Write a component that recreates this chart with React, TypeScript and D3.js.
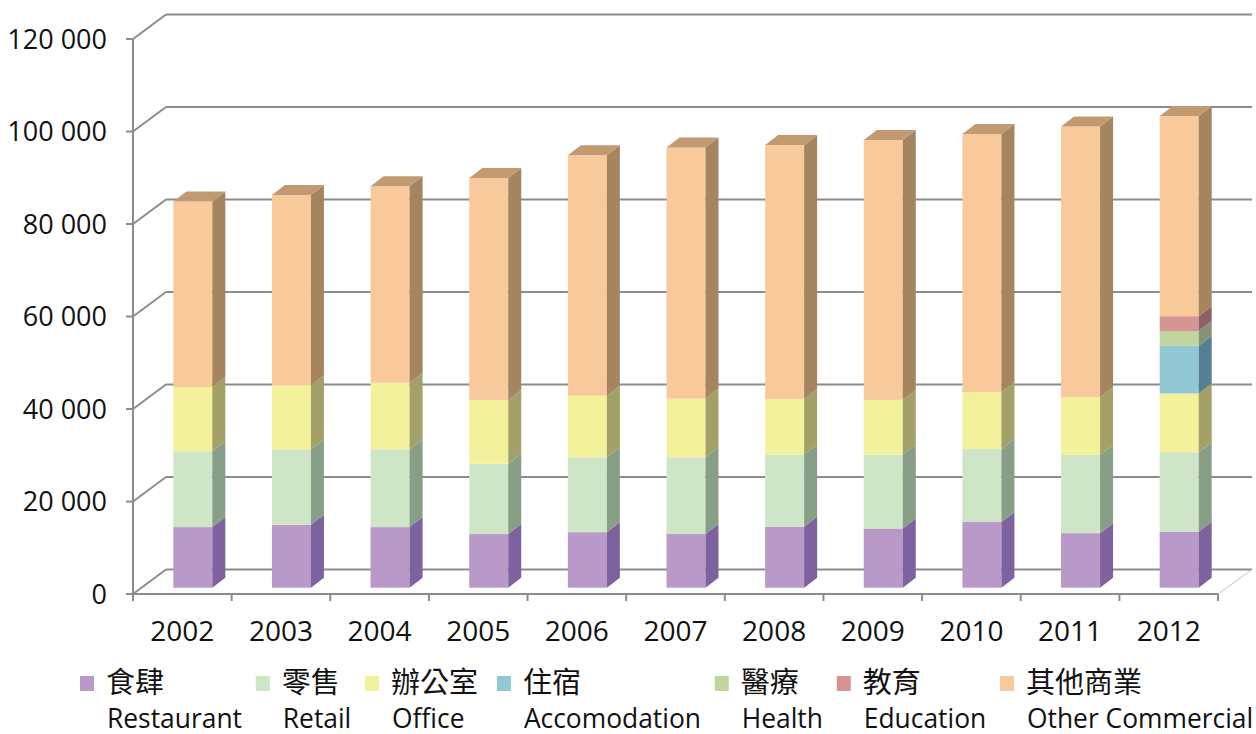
import React, { useMemo } from "react";
import * as d3 from "d3";

const years = ["2002", "2003", "2004", "2005", "2006", "2007", "2008", "2009", "2010", "2011", "2012"];
const restaurant = [13100, 13600, 13100, 11600, 12000, 11600, 13200, 12800, 14200, 11800, 12100];
const retail = [16400, 16300, 16800, 15200, 16200, 16600, 15600, 16000, 15800, 16900, 17200];
const office = [13900, 13900, 14400, 13800, 13300, 12700, 12000, 11800, 12300, 12500, 12700];
const accommodation = [0, 0, 0, 0, 0, 0, 0, 0, 0, 0, 10300];
const health = [0, 0, 0, 0, 0, 0, 0, 0, 0, 0, 3200];
const education = [0, 0, 0, 0, 0, 0, 0, 0, 0, 0, 3200];
const other = [40100, 41100, 42500, 48000, 52000, 54300, 54900, 56200, 55800, 58500, 43300];

const yTicks = [0, 20000, 40000, 60000, 80000, 100000, 120000];
const yTickLabels = ["0", "20 000", "40 000", "60 000", "80 000", "100 000", "120 000"];

const seriesNamesZh = ["食肆", "零售", "辦公室", "住宿", "醫療", "教育", "其他商業"];
const seriesNamesEn = ["Restaurant", "Retail", "Office", "Accomodation", "Health", "Education", "Other Commercial"];
const seriesValues = [restaurant, retail, office, accommodation, health, education, other];
const frontColors = ["#b899c8", "#cfe5c7", "#f4f19d", "#92c8d5", "#c3d59e", "#d69494", "#f8c99a"];
const sideColors = ["#7e62a0", "#869f86", "#a3a168", "#577f91", "#86937a", "#8e6068", "#a4855f"];
const topColors = ["#9a7fb4", "#aac2a6", "#cbc882", "#74a4b4", "#a4b48a", "#b27a80", "#c29a72"];

const W = 1256;
const H = 734;
const FONT = "'Open Sans', 'Noto Sans', sans-serif";
const CJK = "'Noto Sans CJK TC', 'Noto Sans CJK SC', sans-serif";
const EN_SIZE = 26.4;
const ZH_SIZE = 29;

export default function App() {
  const x0 = 133;
  const x1 = 1218;
  const backDx = 33;
  const backDy = -24.5;
  const barDx = 10.5;
  const barDy = -6.3;
  const depthDx = 13;
  const depthDy = -10;
  const barW = 39;

  const y = d3.scaleLinear().domain([0, 120000]).range([594, 39]);
  const xb = d3.scaleBand().domain(years).range([x0, x1]).paddingInner(0).paddingOuter(0);

  const stacked = useMemo(() => {
    return years.map((yr, i) => {
      let cum = 0;
      const segs = seriesValues.map((vals, s) => {
        const v0 = cum;
        cum += vals[i];
        return { s, v0, v1: cum, v: vals[i] };
      });
      return { yr, segs, total: cum };
    });
  }, []);

  const legendLayout = useMemo(() => {
    let widths: number[] = [];
    try {
      const c = document.createElement("canvas");
      const ctx = c.getContext("2d")!;
      widths = seriesNamesEn.map((en, i) => {
        ctx.font = `${EN_SIZE}px ${FONT}`;
        const we = ctx.measureText(en).width;
        ctx.font = `${ZH_SIZE}px ${CJK}`;
        const wz = ctx.measureText(seriesNamesZh[i]).width;
        return Math.max(we, wz + 4);
      });
    } catch (e) {
      widths = seriesNamesEn.map((en) => en.length * 13);
    }
    const xs: number[] = [];
    let cx = 80;
    widths.forEach((w) => {
      xs.push(cx);
      cx += 26 + w + 14.8;
    });
    return xs;
  }, []);

  const gridColor = "#8c8c8c";

  return (
    <svg width={W} height={H} style={{ position: "absolute", left: 0, top: 0, background: "#fff" }}>
      {yTicks.map((t) => (
        <g key={"g" + t}>
          <line x1={x0 + backDx} x2={x1 + backDx + 1} y1={y(t) + backDy} y2={y(t) + backDy} stroke={gridColor} strokeWidth={2} />
          <line x1={x0} x2={x0 + backDx} y1={y(t)} y2={y(t) + backDy} stroke={gridColor} strokeWidth={2} />
          <line x1={x0 - 7} x2={x0} y1={y(t)} y2={y(t)} stroke={gridColor} strokeWidth={2} />
        </g>
      ))}
      <line x1={x1} y1={y(0)} x2={x1 + backDx + 1} y2={y(0) + backDy} stroke="#c4c4c4" strokeWidth={1} />
      <line x1={x0} x2={x0} y1={y(120000)} y2={y(0) + 7} stroke={gridColor} strokeWidth={2} />
      <line x1={x0} x2={x1} y1={y(0)} y2={y(0)} stroke={gridColor} strokeWidth={2} />
      {years.map((yr) => (
        <line key={"t" + yr} x1={(xb(yr) as number) + xb.bandwidth()} x2={(xb(yr) as number) + xb.bandwidth()} y1={y(0)} y2={y(0) + 7} stroke={gridColor} strokeWidth={2} />
      ))}

      {stacked.map((b) => {
        const cx = (xb(b.yr) as number) + xb.bandwidth() / 2 + barDx;
        const bl = cx - barW / 2;
        const br = cx + barW / 2;
        const nonzero = b.segs.filter((s) => s.v > 0);
        const topSeg = nonzero[nonzero.length - 1];
        return (
          <g key={"b" + b.yr}>
            {nonzero.map((sg) => {
              const yt = y(sg.v1) + barDy;
              const yb = y(sg.v0) + barDy;
              const side = `M${br},${yb} L${br + depthDx},${yb + depthDy} L${br + depthDx},${yt + depthDy} L${br},${yt} Z`;
              return (
                <g key={"s" + sg.s}>
                  <rect x={bl} y={yt} width={barW} height={yb - yt} fill={frontColors[sg.s]} />
                  <path d={side} fill={sideColors[sg.s]} />
                </g>
              );
            })}
            {topSeg && (
              <path
                d={`M${bl},${y(topSeg.v1) + barDy} L${bl + depthDx},${y(topSeg.v1) + barDy + depthDy} L${br + depthDx},${y(topSeg.v1) + barDy + depthDy} L${br},${y(topSeg.v1) + barDy} Z`}
                fill={topColors[topSeg.s]}
              />
            )}
          </g>
        );
      })}

      {yTicks.map((t, i) => (
        <text key={"yl" + t} x={107} y={y(t) + 9.7} textAnchor="end" fontFamily={FONT} fontSize={27} fill="#111">
          {yTickLabels[i]}
        </text>
      ))}
      {years.map((yr) => (
        <text key={"xl" + yr} x={(xb(yr) as number) + xb.bandwidth() / 2} y={641} textAnchor="middle" fontFamily={FONT} fontSize={28} fill="#111">
          {yr}
        </text>
      ))}

      {seriesNamesZh.map((zh, i) => {
        const lx = legendLayout[i];
        return (
          <g key={"lg" + i}>
            <rect x={lx} y={676} width={14} height={15} fill={frontColors[i]} />
            <text x={lx + 26} y={693} fontFamily={CJK} fontSize={ZH_SIZE} fill="#111">
              {zh}
            </text>
            <text x={lx + 27} y={728} fontFamily={FONT} fontSize={EN_SIZE} fill="#111">
              {seriesNamesEn[i]}
            </text>
          </g>
        );
      })}
    </svg>
  );
}
